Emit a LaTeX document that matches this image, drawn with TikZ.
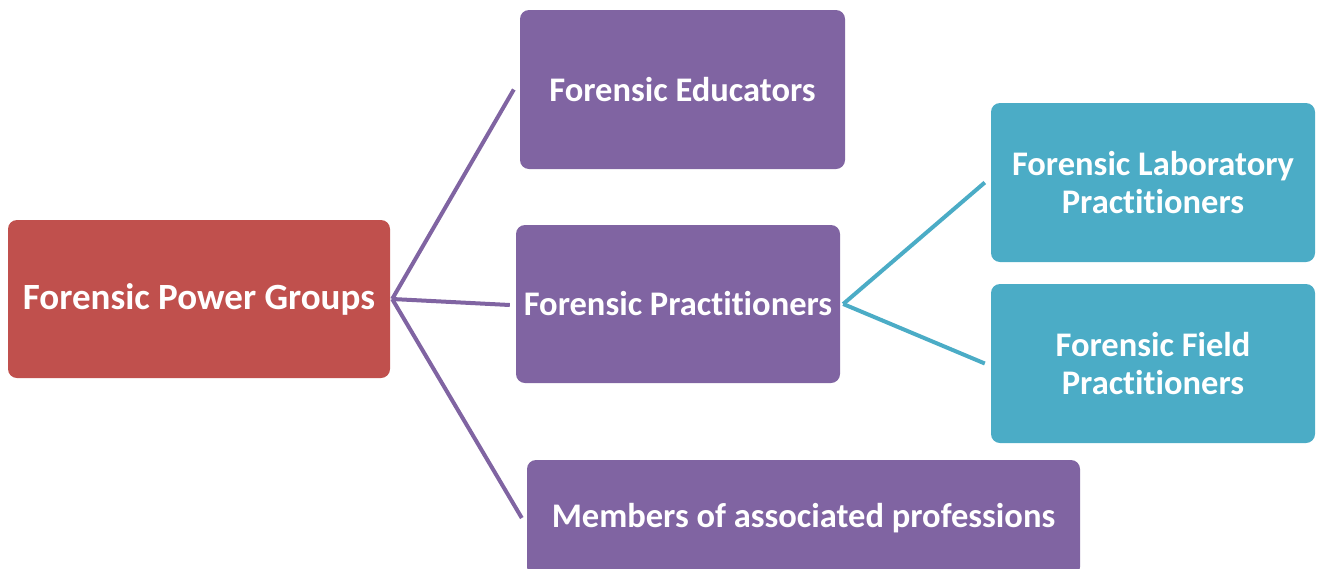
\documentclass[tikz,border=0pt]{standalone}
\usepackage{fontspec}
\setmainfont{Carlito}[Ligatures={NoCommon,NoRare}]
\definecolor{redbox}{HTML}{C0504D}
\definecolor{purplebox}{HTML}{8064A2}
\definecolor{cyanbox}{HTML}{4BACC6}
\tikzset{
  box/.style={rounded corners=9pt, inner sep=0pt, text=white, align=center,
    font=\fontsize{34.5}{38}\selectfont\bfseries},
  redb/.style={box, fill=redbox, font=\fontsize{37}{38}\selectfont\bfseries},
  purpb/.style={box, fill=purplebox},
  cyanb/.style={box, fill=cyanbox},
  plink/.style={draw=purplebox, line width=4pt},
  clink/.style={draw=cyanbox, line width=4pt},
}
\begin{document}
\begin{tikzpicture}[x=1pt,y=-1pt]
\useasboundingbox (0,0) rectangle (1317,568);
\clip (0,0) rectangle (1317,568);
\node[redb, minimum width=382pt, minimum height=158pt] (root) at (199,299) {Forensic Power Groups};
\node[purpb, minimum width=325pt, minimum height=159pt] (edu) at (682.5,89.5) {Forensic Educators};
\node[purpb, minimum width=324pt, minimum height=158pt] (prac) at (678,304) {Forensic Practitioners};
\node[purpb, minimum width=553pt, minimum height=116pt] (mem) at (803.5,518) {Members of associated professions};
\node[cyanb, minimum width=324pt, minimum height=159pt] (lab) at (1153,182.5) {Forensic Laboratory\\Practitioners};
\node[cyanb, minimum width=324pt, minimum height=159pt] (field) at (1153,363.5) {Forensic Field\\Practitioners};
\coordinate (o) at ([xshift=2pt]root.east);
\draw[plink] (o) -- ([xshift=-6pt]edu.west);
\draw[plink] (o) -- ([xshift=-6pt,yshift=-1pt]prac.west);
\draw[plink] (o) -- ([xshift=-5pt]mem.west);
\coordinate (p) at ([xshift=3pt]prac.east);
\draw[clink] (p) -- ([xshift=-6pt]lab.west);
\draw[clink] (p) -- ([xshift=-6pt]field.west);
\end{tikzpicture}
\end{document}
